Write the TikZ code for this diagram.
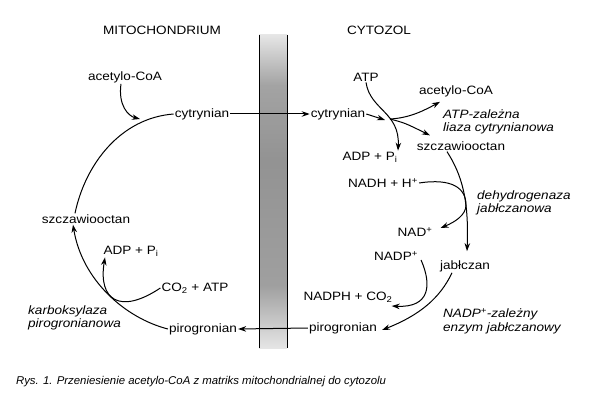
\documentclass[tikz,border=0pt]{standalone}
\usepackage{fontspec}
\setmainfont{Liberation Sans}[FakeStretch=1.12]
\usetikzlibrary{arrows.meta}

\pgfdeclareverticalshading{membrane}{100bp}{color(0bp)=(gray!20); color(25bp)=(gray!20);
  color(35bp)=(gray!75); color(55bp)=(gray!85); color(67bp)=(gray!72);
  color(75bp)=(gray!20); color(100bp)=(gray!20)}

\tikzset{
  lbl/.style={font=\fontsize{12.1}{13.5}\selectfont, inner sep=1pt},
  enz/.style={lbl, font=\fontsize{12.1}{13.5}\selectfont\itshape, align=left, anchor=west},
  path/.style={line width=1pt},
  arr/.style={path, -{Stealth[length=8pt,width=5.5pt]}},
}

\begin{document}
\begin{tikzpicture}[x=1pt, y=-1pt]
  \useasboundingbox (0,0) rectangle (604,406);

  % Membrane
  \shade[shading=membrane] (259,35) rectangle (287,348);
  \draw[line width=1pt] (259,35) -- (259,348);
  \draw[line width=1pt] (287,35) -- (287,348);

  % Headers
  \node[lbl] (mito) at (162,30) {MITOCHONDRIUM};
  \node[lbl] (cyto) at (379,30) {CYTOZOL};

  % Mitochondrium
  \node[lbl] (acoaM) at (125,77)  {acetylo-CoA};
  \node[lbl] (cytM)  at (202,114) {cytrynian};
  \node[lbl] (szcM)  at (86,219)  {szczawiooctan};
  \node[lbl] (adpM)  at (131,251) {ADP + P\textsubscript{i}};
  \node[lbl] (co2M)  at (195,288) {CO\textsubscript{2} + ATP};
  \node[lbl] (pirM)  at (203,329) {pirogronian};
  \node[enz] (karb)  at (27,318)  {karboksylaza\\pirogronianowa};

  % Cytozol
  \node[lbl] (atpC)   at (366,77)  {ATP};
  \node[lbl] (acoaC)  at (456,91)  {acetylo-CoA};
  \node[lbl] (cytC)   at (338,114) {cytrynian};
  \node[enz] (liaza)  at (442,122) {ATP-zależna\\liaza cytrynianowa};
  \node[lbl] (szcC)   at (461,146) {szczawiooctan};
  \node[lbl] (adpC)   at (370,157) {ADP + P\textsubscript{i}};
  \node[lbl] (nadh)   at (383,183) {NADH + H\textsuperscript{+}};
  \node[enz] (dehydr) at (476,203) {dehydrogenaza\\jabłczanowa};
  \node[lbl] (nad)    at (415,232) {NAD\textsuperscript{+}};
  \node[lbl] (nadp)   at (396,256) {NADP\textsuperscript{+}};
  \node[lbl] (jabl)   at (465,266) {jabłczan};
  \node[lbl] (nadph)  at (348,297) {NADPH + CO\textsubscript{2}};
  \node[enz] (malic)  at (442,321) {NADP\textsuperscript{+}-zależny\\enzym jabłczanowy};
  \node[lbl] (pirC)   at (343,328) {pirogronian};

  \coordinate (lyaza) at (390,119);

  % Transport across the membrane
  \draw[arr] (cytM.east) -- (cytC.west);
  \draw[arr] (pirC.west) -- (pirM.east);

  % Mitochondrial cycle
  \draw[arr] (pirM.west) .. controls (125,318) and (82,280) .. ([xshift=-13pt]szcM.south);
  \draw[path] ([xshift=-11pt]szcM.north) .. controls (85,165) and (120,118) .. (cytM.west);
  \draw[arr] ([xshift=-4pt]acoaM.south) .. controls (118,105) and (128,116) .. (140,119);
  \draw[arr] (co2M.west) .. controls (120,315) and (98,300) .. ([xshift=-26pt]adpM.south);

  % Cytosolic reactions
  \draw[arr] (atpC.south) .. controls (370,110) and (400,112) .. ([xshift=28pt]adpC.north);
  \draw[arr] (cytC.east) -- ([xshift=-5pt,yshift=-1pt]lyaza);
  \draw[arr] (lyaza) .. controls (410,118) and (425,110) .. ([xshift=-16pt,yshift=-4pt]acoaC.south);
  \draw[arr] (lyaza) .. controls (405,123) .. ([xshift=-31pt,yshift=5pt]szcC.north);
  \draw[arr] ([xshift=-14pt]szcC.south) .. controls (462,175) and (469,200) .. ([xshift=2pt,yshift=8pt]jabl.north);
  \draw[arr] (nadh.east) .. controls (452,178) and (466,188) .. (466,205)
                         .. controls (466,215) and (455,222) .. ([xshift=7pt,yshift=4pt]nad.east);
  \draw[arr] ([xshift=-13pt]jabl.south) .. controls (440,298) and (420,315) .. ([xshift=4pt,yshift=-2pt]pirC.east);
  \draw[arr] ([xshift=2pt,yshift=-4pt]nadp.east) .. controls (432,285) and (430,308) .. ([xshift=-2pt,yshift=-9pt]nadph.east);

  % Caption
  \node[enz, font=\fontsize{11.3}{13}\selectfont\itshape, xscale=0.9, transform shape] (caption) at (15,382) {Rys. 1. Przeniesienie acetylo-CoA z matriks mitochondrialnej do cytozolu};
\end{tikzpicture}
\end{document}
